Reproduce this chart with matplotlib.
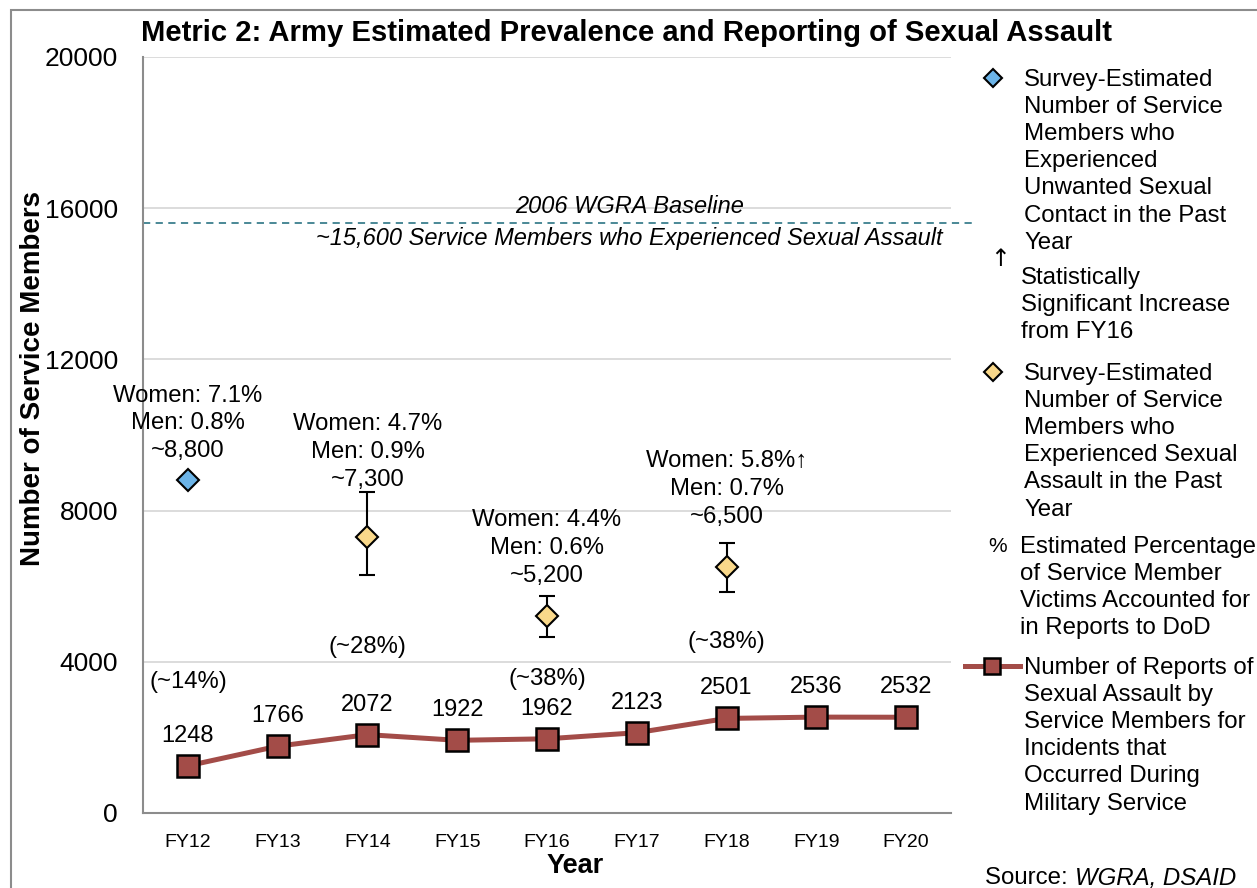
import numpy as np
import matplotlib
matplotlib.use("Agg")
import matplotlib.pyplot as plt
from matplotlib.lines import Line2D
from matplotlib.patches import Rectangle

plt.rcParams['font.family'] = ['Liberation Sans', 'DejaVu Sans']

# data
years = ['FY12', 'FY13', 'FY14', 'FY15', 'FY16', 'FY17', 'FY18', 'FY19', 'FY20']
reports = [1248, 1766, 2072, 1922, 1962, 2123, 2501, 2536, 2532]

usc_year = 0  # FY12 unwanted sexual contact estimate
usc_value = 8800
usc_label = 'Women: 7.1%\nMen: 0.8%\n~8,800'

sa_years = [2, 4, 6]  # FY14, FY16, FY18
sa_values = [7300, 5200, 6500]
sa_low = [6300, 4650, 5850]
sa_high = [8500, 5750, 7150]
sa_labels = ['Women: 4.7%\nMen: 0.9%\n~7,300',
             'Women: 4.4%\nMen: 0.6%\n~5,200',
             'Women: 5.8%\u2191\nMen: 0.7%\n~6,500']

pct_years = [0, 2, 4, 6]
pct_labels = ['(~14%)', '(~28%)', '(~38%)', '(~38%)']

baseline = 15600

# label placement (data units)
usc_label_y = 9280
sa_label_y = [8530, 5985, 7545]
pct_label_y = [3460, 4380, 3540, 4510]

RED = '#A34C48'
BLUE = '#6CB4E8'
YELLOW = '#F9D88A'
TEAL = '#3C7F8E'

fig = plt.figure(figsize=(12.57, 8.88), dpi=100)
ax = fig.add_axes([0.1138, 0.0845, 0.6428, 0.8514])

x = np.arange(len(years))
ax.set_xlim(-0.5, 8.5)
ax.set_ylim(0, 20000)
ax.set_yticks(np.arange(0, 20001, 4000))
ax.set_xticks(x)
ax.set_xticklabels(years, fontsize=14)
ax.tick_params(axis='y', labelsize=19, length=0, pad=18)
ax.tick_params(axis='x', length=0, pad=15)
ax.grid(axis='y', color='#D9D9D9', lw=1.3)
ax.set_axisbelow(True)
for s in ['top', 'right']:
    ax.spines[s].set_visible(False)
for s in ['left', 'bottom']:
    ax.spines[s].set_color('#8C8C8C')
    ax.spines[s].set_linewidth(1.5)

# baseline
ax.plot([-0.5, 8.77], [baseline, baseline], ls=(0, (4, 3)), color=TEAL, lw=1.3, clip_on=False)
ax.text(4.92, baseline + 130, '2006 WGRA Baseline', ha='center', va='bottom',
        fontsize=17, style='italic')
ax.text(4.92, baseline - 90, '~15,600 Service Members who Experienced Sexual Assault',
        ha='center', va='top', fontsize=17, style='italic')

# reports line
ax.plot(x, reports, color=RED, lw=3.6, marker='s', markersize=15.5,
        markerfacecolor=RED, markeredgecolor='black', markeredgewidth=1.8, zorder=4)
for xi, v in zip(x, reports):
    ax.annotate(str(v), (xi, v), xytext=(0, 19), textcoords='offset pixels',
                ha='center', va='bottom', fontsize=17)

# survey estimates
ax.plot([usc_year], [usc_value], ls='none', marker='D', markersize=11,
        markerfacecolor=BLUE, markeredgecolor='black', markeredgewidth=1.5, zorder=5)
ax.text(usc_year, usc_label_y, usc_label, ha='center', va='bottom', fontsize=17.2,
        linespacing=1.34)

err = [np.array(sa_values) - np.array(sa_low), np.array(sa_high) - np.array(sa_values)]
ax.errorbar(sa_years, sa_values, yerr=err, fmt='D', markersize=11, color='black',
            markerfacecolor=YELLOW, markeredgecolor='black', markeredgewidth=1.5,
            ecolor='black', elinewidth=1.5, capsize=6, capthick=1.5, zorder=5)
for xi, ly, lab in zip(sa_years, sa_label_y, sa_labels):
    ax.text(xi, ly, lab, ha='center', va='bottom', fontsize=17.2, linespacing=1.34)

for xi, ly, lab in zip(pct_years, pct_label_y, pct_labels):
    ax.text(xi, ly, lab, ha='center', va='center', fontsize=17.2)

fig.text(33 / 1257, 1 - 378 / 888, 'Number of Service Members', fontsize=20,
         fontweight='bold', rotation=90, ha='center', va='center')
fig.text(575 / 1257, 1 - 866 / 888, 'Year', fontsize=19.5, fontweight='bold',
         ha='center', va='center')

fig.text(0.1122, 0.963, 'Metric 2: Army Estimated Prevalence and Reporting of Sexual Assault',
         fontsize=21.1, fontweight='bold', va='center', ha='left')

# legend (manual, right side)
def fy(py):
    return 1 - py / 888.0

def fx(px):
    return px / 1257.0

tx = fx(1024)
fs = 17.3
ls = 1.3
fig.add_artist(Line2D([fx(993)], [fy(78)], marker='D', markersize=9, markerfacecolor=BLUE,
                      markeredgecolor='black', markeredgewidth=1.5, ls='none'))
fig.text(tx, fy(69), 'Survey-Estimated\nNumber of Service\nMembers who\nExperienced\n'
         'Unwanted Sexual\nContact in the Past\nYear', fontsize=fs, va='top', linespacing=ls)
fig.text(fx(1000), fy(259), '\u2191', fontsize=17, ha='center', va='center',
         family='DejaVu Sans')
fig.text(fx(1021), fy(267), 'Statistically\nSignificant Increase\nfrom FY16',
         fontsize=fs, va='top', linespacing=ls)
fig.add_artist(Line2D([fx(993)], [fy(372)], marker='D', markersize=9, markerfacecolor=YELLOW,
                      markeredgecolor='black', markeredgewidth=1.5, ls='none'))
fig.text(tx, fy(363), 'Survey-Estimated\nNumber of Service\nMembers who\nExperienced Sexual\n'
         'Assault in the Past\nYear', fontsize=fs, va='top', linespacing=ls)
fig.text(fx(998), fy(547), '%', fontsize=15, ha='center', va='center')
fig.text(fx(1020), fy(536), 'Estimated Percentage\nof Service Member\nVictims Accounted for\n'
         'in Reports to DoD', fontsize=fs, va='top', linespacing=ls)
fig.add_artist(Line2D([fx(965), fx(1020)], [fy(666), fy(666)], color=RED, lw=3.6))
fig.add_artist(Line2D([fx(992)], [fy(666)], marker='s', markersize=11, markerfacecolor=RED,
                      markeredgecolor='black', markeredgewidth=1.8, ls='none'))
fig.text(tx, fy(657), 'Number of Reports of\nSexual Assault by\nService Members for\n'
         'Incidents that\nOccurred During\nMilitary Service', fontsize=fs, va='top',
         linespacing=ls)
fig.text(fx(985), fy(878), 'Source: ', fontsize=fs, va='center')
fig.text(fx(1075), fy(878), 'WGRA, DSAID', fontsize=fs, va='center', style='italic')

# outer frame
fig.add_artist(Rectangle((fx(11), -0.1), 1.2, fy(10) + 0.1, transform=fig.transFigure,
                         fill=False, edgecolor='#8C8C8C', lw=1.5))

fig.savefig('out.png', dpi=100)
